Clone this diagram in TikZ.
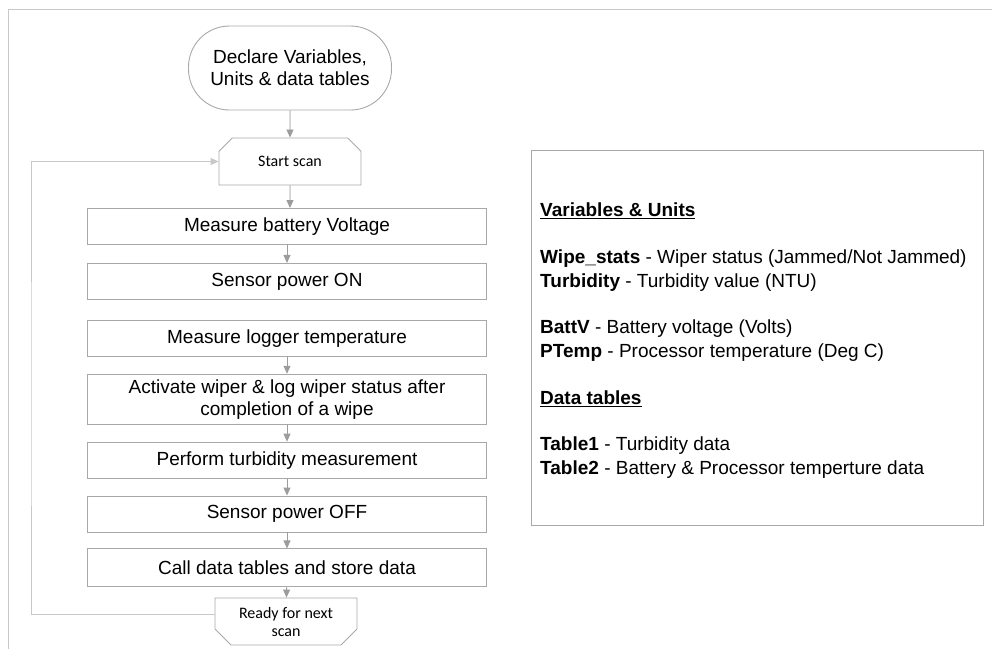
\documentclass[tikz,border=0pt]{standalone}
\usepackage{fontspec}
\setmainfont{Liberation Sans}
\newfontfamily\calib{Carlito}
\usepackage{xcolor}
\usepackage{tikz}
\usetikzlibrary{shapes,arrows.meta,positioning}

\definecolor{edgegray}{HTML}{A8A8A8}
\definecolor{arrowgray}{HTML}{9C9C9C}
\definecolor{framegray}{HTML}{C8C8C8}

\begin{document}
\begin{tikzpicture}[
    x=1pt, y=-1pt,
    node distance=17pt,
    box/.style={rectangle, draw=edgegray, line width=0.9pt, minimum width=399pt, minimum height=36pt, inner sep=2pt, align=center, font=\fontsize{19}{22}\selectfont},
    terminal/.style={rectangle, rounded corners=41pt, draw=edgegray, line width=0.9pt, minimum width=203pt, minimum height=84pt, align=center, font=\fontsize{19}{22}\selectfont},
    scanbox/.style={chamfered rectangle, chamfered rectangle xsep=8pt, chamfered rectangle ysep=8pt, draw=edgegray, line width=0.9pt, minimum width=142pt, minimum height=47pt, inner sep=0pt, align=center, font=\calib\fontsize{16}{18}\selectfont},
    panel/.style={rectangle, draw=edgegray, line width=0.9pt, minimum width=452pt, minimum height=375pt},
    arrow/.style={-{Triangle[width=7pt,length=8pt]}, draw=arrowgray, fill=arrowgray, line width=0.9pt},
    loopline/.style={-{Triangle[width=7pt,length=8pt]}, draw=framegray, line width=0.9pt}
]
\useasboundingbox (0,0) rectangle (992,648);

% page frame
\draw[framegray, line width=1pt] (8,700) |- (1050,9);

% Start
\node[terminal] (declare) at (290,68) {Declare Variables,\\Units \& data tables};
\node[scanbox, chamfered rectangle corners={north west, north east}] (start) at (290,161.5) {Start scan};

% Process steps
\node[box] (batt) at (287,226.5) {Measure battery Voltage};
\node[box, below=18pt of batt] (sensoron) {Sensor power ON};
\node[box, below=20pt of sensoron] (ptemp) {Measure logger temperature};
\node[box, below=of ptemp, minimum height=50pt] (wiper) {Activate wiper \& log wiper status after\\completion of a wipe};
\node[box, below=of wiper] (turb) {Perform turbidity measurement};
\node[box, below=of turb] (sensoroff) {Sensor power OFF};
\node[box, below=16pt of sensoroff, minimum height=38pt] (store) {Call data tables and store data};

% End of scan
\node[scanbox, chamfered rectangle corners={south west, south east}] (ready) at (286,621.5) {Ready for next\\scan};

% Legend
\node[panel, anchor=north west] (legend) at (531,150) {};
\node[anchor=north west, align=left, inner sep=0pt, font=\fontsize{19}{23.4}\selectfont] (legendtext) at (540,203) {%
\textbf{\underline{Variables \& Units}}\\[23.4pt]
\textbf{Wipe\_stats} - Wiper status (Jammed/Not Jammed)\\
\textbf{Turbidity} - Turbidity value (NTU)\\[23.4pt]
\textbf{BattV} - Battery voltage (Volts)\\
\textbf{PTemp} - Processor temperature (Deg C)\\[23.4pt]
\textbf{\underline{Data tables}}\\[23.4pt]
\textbf{Table1} - Turbidity data\\
\textbf{Table2} - Battery \& Processor temperture data};

% Arrows
\draw[arrow] (declare) -- (start);
\draw[arrow] (start) -- (start |- batt.north);
\draw[arrow] (batt) -- (sensoron);
\draw[arrow] (ptemp) -- (wiper);
\draw[arrow] (wiper) -- (turb);
\draw[arrow] (turb) -- (sensoroff);
\draw[arrow] (sensoroff) -- (store);
\draw[arrow] (store) -- (ready);

% Loop back
\coordinate (back) at (31,400);
\draw[loopline] ([yshift=7pt]ready.west) -| (back) |- (start.west);

\end{tikzpicture}
\end{document}
